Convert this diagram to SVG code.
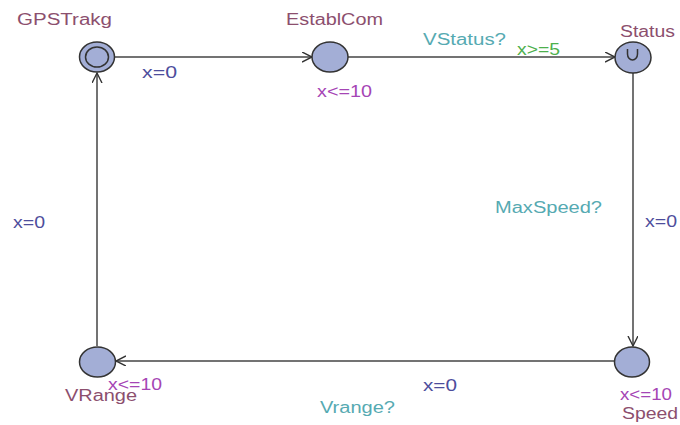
<svg xmlns="http://www.w3.org/2000/svg" width="680" height="425" viewBox="0 0 680 425">
<style>
text{font-family:"Liberation Sans",Arial,sans-serif;font-size:16px}
.loc{fill:#8c4f6e}
.inv{fill:#a545b5}
.asg{fill:#4d4d9c}
.syn{fill:#56aab2}
.grd{fill:#4db04d}
.node{fill:#a3aed6;stroke:#333;stroke-width:1.5}
.edge{fill:none;stroke:#444;stroke-width:1.5;marker-end:url(#arr)}
</style>
<defs>
<marker id="arr" markerWidth="12" markerHeight="12" refX="10" refY="5" orient="auto" markerUnits="userSpaceOnUse">
<path d="M0,0 L10,5 L0,10" fill="none" stroke="#333" stroke-width="1.4"/>
</marker>
</defs>
<rect width="680" height="425" fill="#fff"/>
<g id="connectors">
<line class="edge" x1="115" y1="57" x2="312" y2="57"/>
<line class="edge" x1="348" y1="57" x2="615" y2="57"/>
<line class="edge" x1="633" y1="73" x2="633" y2="346"/>
<line class="edge" x1="614" y1="361" x2="116" y2="361"/>
<line class="edge" x1="97" y1="346" x2="97" y2="73"/>
<text class="asg" x="142" y="78" textLength="35" lengthAdjust="spacingAndGlyphs">x=0</text>
<text class="syn" x="423" y="45" textLength="83" lengthAdjust="spacingAndGlyphs">VStatus?</text>
<text class="grd" x="517" y="55" textLength="43" lengthAdjust="spacingAndGlyphs">x&gt;=5</text>
<text class="syn" x="495" y="213" textLength="107" lengthAdjust="spacingAndGlyphs">MaxSpeed?</text>
<text class="asg" x="645" y="227" textLength="32" lengthAdjust="spacingAndGlyphs">x=0</text>
<text class="asg" x="423" y="391" textLength="34" lengthAdjust="spacingAndGlyphs">x=0</text>
<text class="syn" x="320" y="413" textLength="75" lengthAdjust="spacingAndGlyphs">Vrange?</text>
<text class="asg" x="13" y="228" textLength="32" lengthAdjust="spacingAndGlyphs">x=0</text>
</g>
<g id="GPSTrakg">
<ellipse class="node" cx="97" cy="57" rx="17.5" ry="15"/>
<ellipse cx="97" cy="57" rx="11.5" ry="10" fill="none" stroke="#333" stroke-width="1.5"/>
<text class="loc" x="17" y="25" textLength="95" lengthAdjust="spacingAndGlyphs">GPSTrakg</text>
</g>
<g id="EstablCom">
<ellipse class="node" cx="330" cy="57" rx="18" ry="15"/>
<text class="loc" x="286" y="25" textLength="97" lengthAdjust="spacingAndGlyphs">EstablCom</text>
<text class="inv" x="317" y="97" textLength="55" lengthAdjust="spacingAndGlyphs">x&lt;=10</text>
</g>
<g id="Status">
<ellipse class="node" cx="633" cy="57.5" rx="18" ry="15.5"/>
<path d="M627.5,49 L627.5,54 A5,6 0 0 0 637.5,54 L637.5,49" fill="none" stroke="#333" stroke-width="1.5"/>
<text class="loc" x="620" y="37" textLength="55" lengthAdjust="spacingAndGlyphs">Status</text>
</g>
<g id="Speed">
<ellipse class="node" cx="632" cy="362" rx="17.5" ry="15"/>
<text class="inv" x="620" y="400" textLength="52" lengthAdjust="spacingAndGlyphs">x&lt;=10</text>
<text class="loc" x="622" y="419" textLength="56" lengthAdjust="spacingAndGlyphs">Speed</text>
</g>
<g id="VRange">
<ellipse class="node" cx="97.5" cy="362" rx="18" ry="15"/>
<text class="inv" x="108" y="390" textLength="54" lengthAdjust="spacingAndGlyphs">x&lt;=10</text>
<text class="loc" x="65" y="401" textLength="72" lengthAdjust="spacingAndGlyphs">VRange</text>
</g>
</svg>
